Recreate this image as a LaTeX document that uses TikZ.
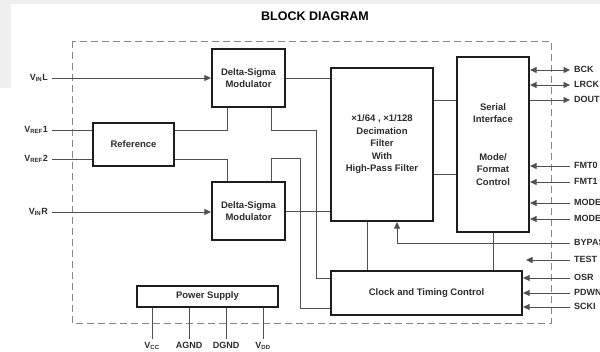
\documentclass[tikz,border=0pt]{standalone}
\usepackage{fontspec}
\setmainfont{Liberation Sans}
\usetikzlibrary{arrows.meta}
\definecolor{wiregray}{RGB}{80,80,80}
\definecolor{boxline}{RGB}{30,30,30}
\definecolor{labeltext}{RGB}{45,45,45}
\definecolor{panelgray}{RGB}{239,239,239}
\definecolor{dashgray}{RGB}{135,135,135}

\begin{document}
\begin{tikzpicture}[x=1pt,y=-1pt,line join=miter,
    blk/.style={draw=boxline,line width=2.2pt,fill=white,inner sep=0pt,align=center,
      text=labeltext,font=\fontsize{9.5}{12.5}\selectfont\bfseries},
    wire/.style={draw=wiregray,line width=0.8pt},
    tip/.style={>={Triangle[length=6.5pt,width=6pt]}},
    pin/.style={text=labeltext,font=\fontsize{9}{9}\selectfont\bfseries,
      inner ysep=2pt,inner xsep=4pt,text height=7pt,text depth=2pt}]
    \path[use as bounding box] (0,0) rectangle (600,352);

    \fill[white] (0,0) rectangle (600,352);
    \fill[panelgray] (0,0) rectangle (600,4);
    \fill[panelgray] (0,0) rectangle (11,88);

    \node[font=\fontsize{12.5}{12.5}\selectfont\bfseries] (title) at (315,16) {BLOCK DIAGRAM};

    \draw[dashgray,line width=0.9pt,dash pattern=on 7pt off 4pt] (72,41) rectangle (551,323);

    % blocks
    \node[blk,minimum width=73,minimum height=58] (dsa) at (248.5,78) {Delta-Sigma\\Modulator};
    \node[blk,minimum width=73,minimum height=58] (dsb) at (248.5,211) {Delta-Sigma\\Modulator};
    \node[blk,minimum width=81,minimum height=43] (ref) at (133.5,144.5) {Reference};
    \node[blk,minimum width=102,minimum height=153] (dec) at (382,144.5)
      {×1/64 , ×1/128\\Decimation\\Filter\\With\\High-Pass Filter};
    \node[blk,minimum width=72,minimum height=175] (ser) at (493,144.5)
      {Serial\\Interface\\[25pt]Mode/\\Format\\Control};
    \node[blk,minimum width=191,minimum height=44] (clk) at (426.5,293) {Clock and Timing Control};
    \node[blk,minimum width=141,minimum height=21] (psu) at (207.5,296.5) {Power Supply};

    % left pins
    \node[pin,anchor=east] (vinl) at (52,78) {V\textsubscript{IN}L};
    \node[pin,anchor=east] (vref1) at (52,130) {V\textsubscript{REF}1};
    \node[pin,anchor=east] (vref2) at (52,159) {V\textsubscript{REF}2};
    \node[pin,anchor=east] (vinr) at (52,212) {V\textsubscript{IN}R};

    \draw[wire,tip,->] (vinl.east) -- (vinl.east -| dsa.west);
    \draw[wire,tip,->] (vinr.east) -- (vinr.east -| dsb.west);
    \draw[wire] (vref1.east) -- (vref1.east -| ref.west);
    \draw[wire] (vref2.east) -- (vref2.east -| ref.west);

    \draw[wire] (ref.east |- vref1.east) -| ([xshift=-21.5pt]dsa.south);
    \draw[wire] (ref.east |- vref2.east) -| ([xshift=-21.5pt]dsb.north);

    \draw[wire] ([xshift=22.5pt]dsa.south) |- ++(45,22) |- ([yshift=15pt]clk.west);
    \draw[wire] ([xshift=22.5pt]dsb.north) |- ++(29,-22) |- ([yshift=-15pt]clk.west);

    \draw[wire] (dsa.east) -- (dsa.east -| dec.west);
    \draw[wire] (dsb.east) -- (dsb.east -| dec.west);

    \coordinate (linkhi) at ([yshift=44.5pt]dec.east);
    \coordinate (linklo) at ([yshift=-29.5pt]dec.east);
    \draw[wire] (linkhi) -- (linkhi -| ser.west);
    \draw[wire] (linklo) -- (linklo -| ser.west);

    \coordinate (decclk) at ([xshift=-15pt]dec.south);
    \draw[wire] (decclk) -- (decclk |- clk.north);
    \draw[wire] (ser.south) -- (ser.south |- clk.north);

    % right pins
    \foreach \name/\txt/\yy in {bck/BCK/70,lrck/LRCK/85,dout/DOUT/100,fmt0/FMT0/166,
        fmt1/FMT1/182,mdz/MODE0/203,mdo/MODE1/219,bypas/BYPAS/243,test/TEST/260,
        osr/OSR/278,pdwn/PDWN/293,scki/SCKI/307}
      \node[pin,anchor=west] (\name) at (570,\yy) {\txt};

    \draw[wire,tip,<->] (bck.west) -- (bck.west -| ser.east);
    \draw[wire,tip,<->] (lrck.west) -- (lrck.west -| ser.east);
    \draw[wire,tip,<-] (dout.west) -- (dout.west -| ser.east);
    \foreach \name in {fmt0,fmt1,mdz,mdo}
      \draw[wire,tip,->] (\name.west) -- (\name.west -| ser.east);
    \draw[wire,tip,->] (bypas.west) -| ([xshift=15pt]dec.south);
    \coordinate (testend) at (526,260);
    \draw[wire,tip,->] (test.west) -- (testend);
    \foreach \name in {osr,pdwn,scki}
      \draw[wire,tip,->] (\name.west) -- (\name.west -| clk.east);

    % supply pins
    \foreach \name/\txt/\xx in {vcc/V\textsubscript{CC}/152,agnd/AGND/189,
        dgnd/DGND/226,vdd/V\textsubscript{DD}/263}
      \node[pin,anchor=north,inner xsep=1pt] (\name) at (\xx,339) {\txt};
    \foreach \name in {vcc,agnd,dgnd,vdd}
      \draw[wire] (psu.south -| \name.north) -- (\name.north);
\end{tikzpicture}
\end{document}
